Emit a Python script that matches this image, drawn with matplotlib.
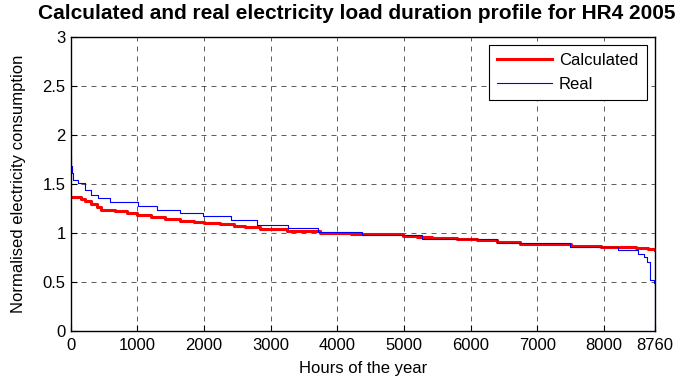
import matplotlib
matplotlib.use('Agg')
import matplotlib.pyplot as plt

# load duration curves (step form)
calc_hours = [0, 150, 220, 300, 390, 450, 670, 850, 1000, 1200, 1420, 1640, 1850, 2000, 2240,
              2450, 2610, 2840, 3240, 3740, 4200, 4590, 4990, 5200, 5420, 5800, 6090, 6390,
              6740, 7180, 7500, 7950, 8200, 8470, 8650, 8760]
calc_vals = [1.37, 1.35, 1.33, 1.30, 1.26, 1.235, 1.22, 1.20, 1.18, 1.16, 1.14, 1.12, 1.11, 1.10, 1.09,
             1.075, 1.06, 1.045, 1.02, 1.0, 0.99, 0.985, 0.97, 0.96, 0.952, 0.94, 0.925, 0.905,
             0.89, 0.885, 0.872, 0.86, 0.855, 0.845, 0.84, 0.83]

real_hours = [0, 5, 15, 35, 110, 210, 310, 410, 590, 1010, 1290, 1640, 1990, 2400, 2800,
              3260, 3710, 4370, 5270, 6390, 7490, 8210, 8500, 8600, 8640, 8680, 8740, 8759, 8760]
real_vals = [1.78, 1.68, 1.61, 1.54, 1.51, 1.44, 1.39, 1.36, 1.32, 1.27, 1.235, 1.20, 1.17, 1.13, 1.08,
             1.048, 1.013, 0.98, 0.936, 0.895, 0.854, 0.827, 0.786, 0.755, 0.707, 0.52, 0.49, 0.0, 0.0]

x_ticks = [0, 1000, 2000, 3000, 4000, 5000, 6000, 7000, 8000, 8760]
y_ticks = [0, 0.5, 1, 1.5, 2, 2.5, 3]

plt.rcParams['font.family'] = ['Liberation Sans', 'DejaVu Sans']

fig = plt.figure(figsize=(6.85, 3.78), dpi=100)
ax = fig.add_axes([0.103, 0.124, 0.853, 0.779])

ax.plot(calc_hours, calc_vals, color='red', lw=2.2, drawstyle='steps-post', label='Calculated')
ax.plot(real_hours, real_vals, color='blue', lw=0.8, drawstyle='steps-post', label='Real')

ax.set_xlim(0, 8760)
ax.set_ylim(0, 3)
ax.set_xticks(x_ticks)
ax.set_yticks(y_ticks)
ax.set_yticklabels(['0', '0.5', '1', '1.5', '2', '2.5', '3'])
ax.tick_params(direction='in', labelsize=12, length=4, width=0.8)
ax.tick_params(axis='x', pad=5)
ax.grid(True, color='black', linestyle=(0, (6, 6)), linewidth=0.6, alpha=0.75)
for s in ax.spines.values():
    s.set_linewidth(1.0)

ax.set_xlabel('Hours of the year', fontsize=12, labelpad=6)
ax.set_ylabel('Normalised electricity consumption', fontsize=12, labelpad=12)
ax.set_title('Calculated and real electricity load duration profile for HR4 2005',
             fontsize=15, fontweight='bold', pad=13, x=0.49)

leg = ax.legend(loc='upper right', fontsize=12, fancybox=False, framealpha=1,
                edgecolor='black', borderaxespad=0.5, handlelength=3.3, borderpad=0.5,
                labelspacing=0.5, handletextpad=0.4)
leg.get_frame().set_linewidth(0.8)

fig.savefig('out.png', dpi=100)
